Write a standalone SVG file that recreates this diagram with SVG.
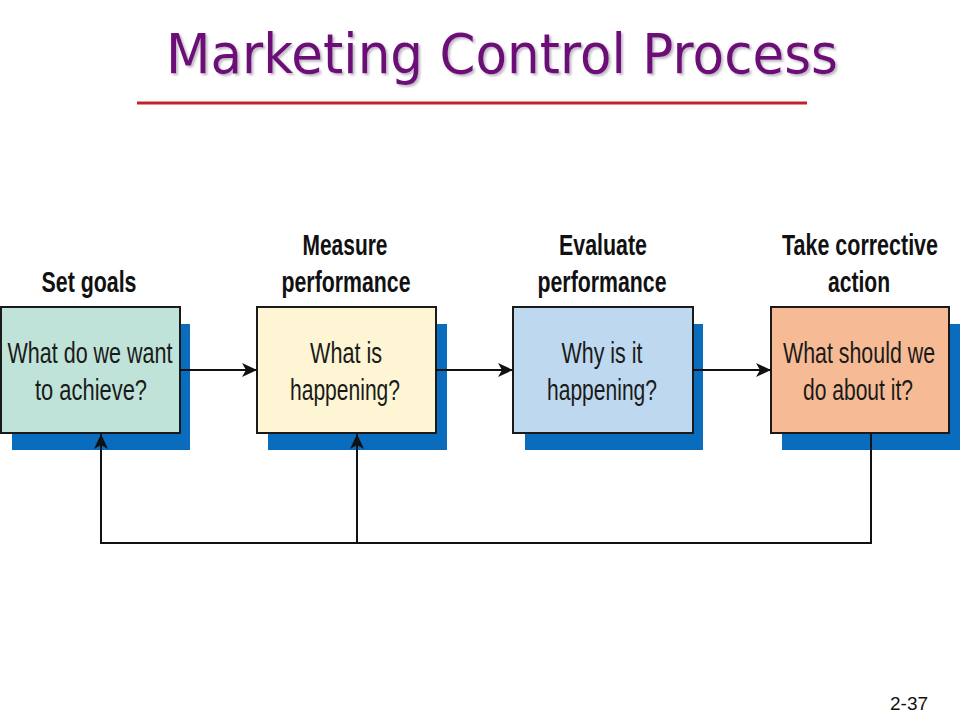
<svg xmlns="http://www.w3.org/2000/svg" width="960" height="720" viewBox="0 0 960 720">
<defs>
<style>
.title{font-family:"DejaVu Sans","Liberation Sans",sans-serif;font-size:56px;fill:#6c0c78}
.head{font-family:"Liberation Sans",Arial,sans-serif;font-size:29px;font-weight:bold;fill:#111;text-anchor:middle}
.body{font-family:"Liberation Sans",Arial,sans-serif;font-size:30px;fill:#1a1a1a;text-anchor:middle}
.box{stroke:#1a1a1a;stroke-width:2}
.shadow{fill:#0a6cbc}
.conn{fill:none;stroke:#111;stroke-width:2}
.pg{font-family:"Liberation Sans",Arial,sans-serif;font-size:18px;fill:#111}
</style>
<filter id="ts" x="-5%" y="-20%" width="110%" height="140%">
<feDropShadow dx="2" dy="2" stdDeviation="1" flood-color="#9a8aa0" flood-opacity="0.6"/>
</filter>
<marker id="arr" markerUnits="userSpaceOnUse" markerWidth="16" markerHeight="14" refX="15" refY="7" orient="auto">
<path d="M0,0 L15,7 L0,14 L4,7 z" fill="#111"/>
</marker>
</defs>
<rect width="960" height="720" fill="#ffffff"/>
<g id="title">
<text class="title" x="166" y="73" textLength="672" lengthAdjust="spacingAndGlyphs" filter="url(#ts)">Marketing Control Process</text>
<line x1="137" y1="103" x2="807" y2="103" stroke="#c8202a" stroke-width="3"/>
</g>
<g id="node-set-goals">
<rect class="shadow" x="12" y="324" width="178" height="126"/>
<rect class="box" x="1" y="307" width="179" height="126" fill="#bfe3d8"/>
<text class="head" transform="translate(89,292) scale(0.75,1)" textLength="126.7" lengthAdjust="spacingAndGlyphs">Set goals</text>
<text class="body" transform="translate(90,363) scale(0.75,1)" textLength="220" lengthAdjust="spacingAndGlyphs">What do we want</text>
<text class="body" transform="translate(91,400) scale(0.75,1)" textLength="149.3" lengthAdjust="spacingAndGlyphs">to achieve?</text>
</g>
<g id="node-measure">
<rect class="shadow" x="268" y="324" width="179" height="126"/>
<rect class="box" x="257" y="307" width="179" height="126" fill="#fdf5d4"/>
<text class="head" transform="translate(345,255) scale(0.75,1)" textLength="113.3" lengthAdjust="spacingAndGlyphs">Measure</text>
<text class="head" transform="translate(346,292) scale(0.75,1)" textLength="172" lengthAdjust="spacingAndGlyphs">performance</text>
<text class="body" transform="translate(346,363) scale(0.75,1)" textLength="96" lengthAdjust="spacingAndGlyphs">What is</text>
<text class="body" transform="translate(345,400) scale(0.75,1)" textLength="146.7" lengthAdjust="spacingAndGlyphs">happening?</text>
</g>
<g id="node-evaluate">
<rect class="shadow" x="525" y="324" width="178" height="126"/>
<rect class="box" x="513" y="307" width="180" height="126" fill="#bdd8ef"/>
<text class="head" transform="translate(603,255) scale(0.75,1)" textLength="117.3" lengthAdjust="spacingAndGlyphs">Evaluate</text>
<text class="head" transform="translate(602,292) scale(0.75,1)" textLength="172" lengthAdjust="spacingAndGlyphs">performance</text>
<text class="body" transform="translate(602,363) scale(0.75,1)" textLength="108" lengthAdjust="spacingAndGlyphs">Why is it</text>
<text class="body" transform="translate(602,400) scale(0.75,1)" textLength="146.7" lengthAdjust="spacingAndGlyphs">happening?</text>
</g>
<g id="node-corrective">
<rect class="shadow" x="782" y="324" width="178" height="126"/>
<rect class="box" x="771" y="307" width="178" height="126" fill="#f6ba95"/>
<text class="head" transform="translate(860,255) scale(0.75,1)" textLength="208" lengthAdjust="spacingAndGlyphs">Take corrective</text>
<text class="head" transform="translate(859,292) scale(0.75,1)" textLength="82.7" lengthAdjust="spacingAndGlyphs">action</text>
<text class="body" transform="translate(859,363) scale(0.75,1)" textLength="202.7" lengthAdjust="spacingAndGlyphs">What should we</text>
<text class="body" transform="translate(858,400) scale(0.75,1)" textLength="146.7" lengthAdjust="spacingAndGlyphs">do about it?</text>
</g>
<g id="connectors">
<line class="conn" x1="180" y1="370" x2="257" y2="370" marker-end="url(#arr)"/>
<line class="conn" x1="436" y1="370" x2="513" y2="370" marker-end="url(#arr)"/>
<line class="conn" x1="693" y1="370" x2="771" y2="370" marker-end="url(#arr)"/>
<polyline class="conn" points="871,434 871,543 101,543 101,434" marker-end="url(#arr)"/>
<line class="conn" x1="357" y1="543" x2="357" y2="434" marker-end="url(#arr)"/>
</g>
<text class="pg" x="890" y="710" textLength="38" lengthAdjust="spacingAndGlyphs">2-37</text>
</svg>
